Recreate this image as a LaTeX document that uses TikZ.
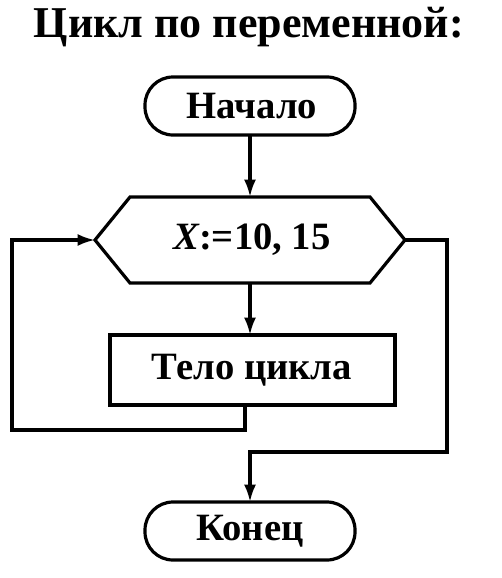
\documentclass[tikz,border=0pt]{standalone}
\usepackage{fontspec}
\setmainfont{Liberation Serif}
\usetikzlibrary{arrows.meta}
\begin{document}
\begin{tikzpicture}[x=0.75pt,y=-0.75pt,line width=2.4pt,
 lbl/.style={font=\bfseries\fontsize{29}{32}\selectfont},
 arr/.style={-{Latex[length=13pt,width=9pt]}}]
\useasboundingbox (0,0) rectangle (502,578);
\node[font=\bfseries\fontsize{33}{35}\selectfont, anchor=center] (title) at (249,27) {Цикл по переменной:};
\draw[rounded corners=21pt] (145,77) rectangle (355,135);
\node[lbl] (start) at (252,106) {Начало};
\draw (130,197) -- (370,197) -- (405,240) -- (370,283) -- (130,283) -- (95,240) -- cycle;
\node[lbl] (loop) at (252,240) {\itshape X\upshape:=10, 15};
\draw (110,335) rectangle (395,405);
\node[lbl] (body) at (252,370) {Тело цикла};
\draw[rounded corners=21pt] (145,502) rectangle (355,560);
\node[lbl] (end) at (250,531) {Конец};
\coordinate (s) at (250,135); \coordinate (lt) at (250,197);
\coordinate (lb) at (250,283); \coordinate (bt) at (250,335);
\draw[arr] (s) -- (lt);
\draw[arr] (lb) -- (bt);
\draw[arr] (245,405) -- (245,430) -- (12,430) -- (12,240) -- (95,240);
\draw[arr] (405,240) -- (447,240) -- (447,452) -- (250,452) -- (250,502);
\end{tikzpicture}
\end{document}
